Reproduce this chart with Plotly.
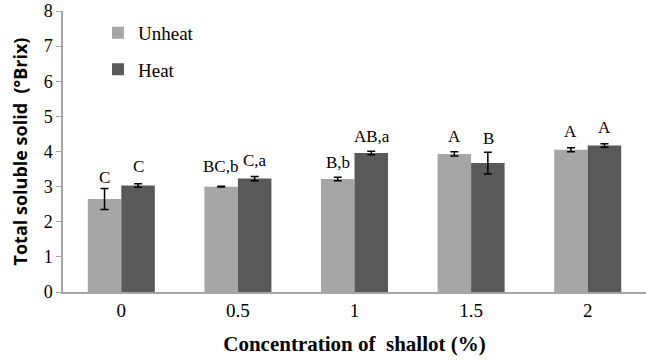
import plotly.graph_objects as go

categories = ["0", "0.5", "1", "1.5", "2"]
unheat = [2.65, 3.00, 3.22, 3.93, 4.05]
unheat_err = [0.30, 0.01, 0.05, 0.06, 0.06]
heat = [3.03, 3.23, 3.96, 3.67, 4.17]
heat_err = [0.05, 0.06, 0.05, 0.31, 0.05]
unheat_labels = ["C", "BC,b", "B,b", "A", "A"]
heat_labels = ["C", "C,a", "AB,a", "B", "A"]
unheat_label_y = [3.25, 3.57, 3.70, 4.44, 4.56]
heat_label_y = [3.56, 3.73, 4.44, 4.36, 4.67]

SERIF = "Liberation Serif, Times New Roman, serif"

fig = go.Figure()
fig.add_trace(go.Bar(
    name="Unheat", x=categories, y=unheat, marker_color="#a6a6a6",
    marker_line_width=0, legendgroup="u",
    error_y=dict(type="data", array=unheat_err, color="black", thickness=1.5, width=4),
))
fig.add_trace(go.Bar(
    name="Heat", x=categories, y=heat, marker_color="#595959",
    marker_line_width=0, legendgroup="h",
    error_y=dict(type="data", array=heat_err, color="black", thickness=1.5, width=4),
))

for i, (t, y) in enumerate(zip(unheat_labels, unheat_label_y)):
    fig.add_annotation(x=i, y=y, text=t, showarrow=False, xshift=-17,
                       yanchor="middle", font=dict(family=SERIF, size=17, color="black"))
for i, (t, y) in enumerate(zip(heat_labels, heat_label_y)):
    fig.add_annotation(x=i, y=y, text=t, showarrow=False, xshift=17,
                       yanchor="middle", font=dict(family=SERIF, size=17, color="black"))

fig.update_layout(
    width=646, height=361,
    margin=dict(l=63, r=0, t=11, b=69),
    paper_bgcolor="white", plot_bgcolor="white",
    barmode="group", bargap=0.425, bargroupgap=0,
    showlegend=True,
    legend=dict(x=0.06, y=0.99, xanchor="left", yanchor="top",
                font=dict(family=SERIF, size=19, color="black"),
                bgcolor="rgba(0,0,0,0)", tracegroupgap=9),
    xaxis=dict(
        type="category", automargin=False,
        showline=True, linecolor="#a6a6a6", linewidth=1.5, ticks="",
        tickfont=dict(family=SERIF, size=19, color="black"),
        title=dict(text="<b>Concentration of  shallot (%)</b>",
                   font=dict(family=SERIF, size=21, color="black"), standoff=17),
    ),
    yaxis=dict(
        range=[0, 8], dtick=1, showgrid=False, zeroline=False, automargin=False,
        showline=True, linecolor="#a6a6a6", linewidth=1.5,
        ticks="outside", ticklen=5, tickcolor="#a6a6a6", ticklabeloverflow="allow",
        tickfont=dict(family=SERIF, size=18, color="black"),
        title=dict(text="\u00a0\u00a0\u00a0\u00a0<b>Total soluble solid  (°Brix)</b>",
                   font=dict(family="Open Sans, DejaVu Sans, sans-serif", size=18, color="black"),
                   standoff=11),
    ),
)

fig.write_html("out.html", config={"displayModeBar": False},
               post_script="document.body.style.margin='0';")
